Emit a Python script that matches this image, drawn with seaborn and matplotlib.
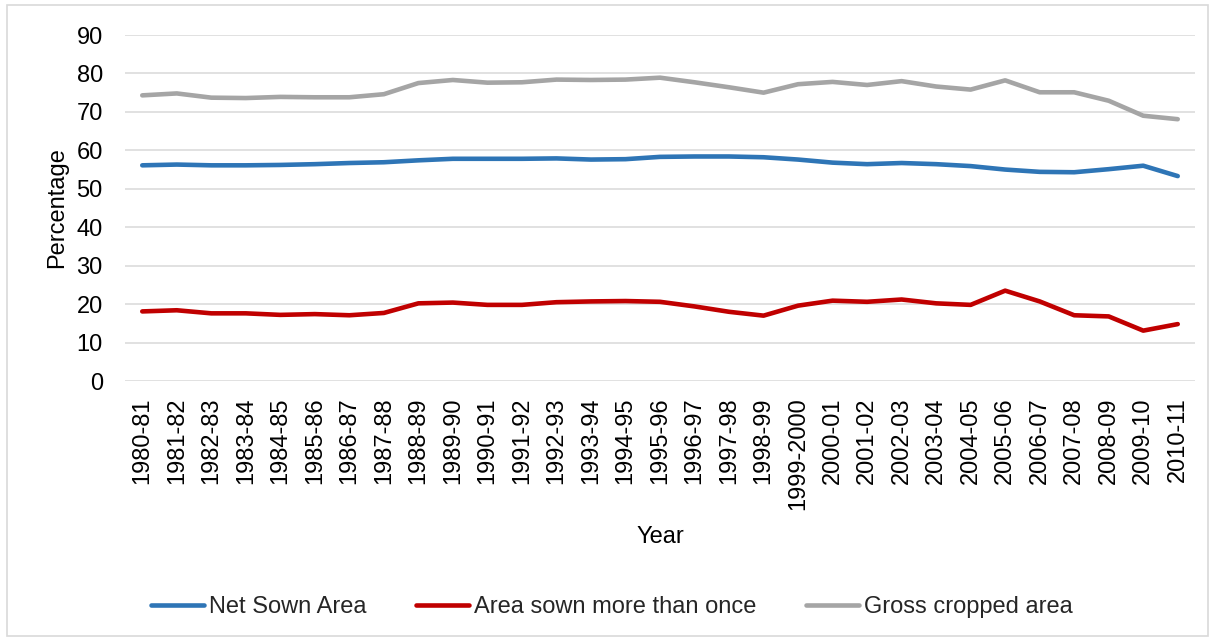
import numpy as np
import pandas as pd
import seaborn as sns
import matplotlib.pyplot as plt
from matplotlib.patches import Rectangle
from matplotlib.lines import Line2D

years = [
    "1980-81", "1981-82", "1982-83", "1983-84", "1984-85", "1985-86", "1986-87",
    "1987-88", "1988-89", "1989-90", "1990-91", "1991-92", "1992-93", "1993-94",
    "1994-95", "1995-96", "1996-97", "1997-98", "1998-99", "1999-2000", "2000-01",
    "2001-02", "2002-03", "2003-04", "2004-05", "2005-06", "2006-07", "2007-08",
    "2008-09", "2009-10", "2010-11",
]

net_sown_area = [
    56.1, 56.3, 56.1, 56.1, 56.2, 56.4, 56.7, 56.9, 57.4, 57.8, 57.8, 57.8,
    57.9, 57.6, 57.7, 58.3, 58.4, 58.4, 58.2, 57.6, 56.8, 56.4, 56.7, 56.4,
    55.9, 55.0, 54.4, 54.3, 55.1, 56.0, 53.3,
]

sown_more_than_once = [
    18.1, 18.4, 17.6, 17.6, 17.2, 17.4, 17.1, 17.7, 20.2, 20.4, 19.8, 19.8,
    20.5, 20.7, 20.8, 20.6, 19.4, 18.0, 17.0, 19.6, 20.9, 20.6, 21.2, 20.2,
    19.8, 23.5, 20.7, 17.1, 16.8, 13.1, 14.8,
]

gross_cropped_area = [
    74.3, 74.8, 73.7, 73.6, 73.9, 73.8, 73.8, 74.6, 77.5, 78.3, 77.6, 77.7,
    78.4, 78.3, 78.4, 78.9, 77.7, 76.4, 75.0, 77.2, 77.8, 77.0, 78.0, 76.6,
    75.8, 78.2, 75.1, 75.1, 72.9, 69.0, 68.1,
]

series_names = ["Net Sown Area", "Area sown more than once", "Gross cropped area"]
series_colors = ["#2E75B6", "#C00000", "#A5A5A5"]

df = pd.DataFrame({
    "Year": years * 3,
    "Percentage": net_sown_area + sown_more_than_once + gross_cropped_area,
    "Series": [series_names[0]] * len(years)
    + [series_names[1]] * len(years)
    + [series_names[2]] * len(years),
})

sns.set_theme(style="white")
plt.rcParams["font.family"] = ["Liberation Sans", "DejaVu Sans"]

FS = 17
LW = 3.3

fig = plt.figure(figsize=(12.13, 6.41), dpi=100)
ax = fig.add_axes([125 / 1213, 1 - 381 / 641, 1070 / 1213, 346 / 641])

sns.lineplot(
    data=df, x="Year", y="Percentage", hue="Series",
    palette=dict(zip(series_names, series_colors)),
    linewidth=LW, sort=False, ax=ax, legend=False,
)
for line in ax.lines:
    line.set_solid_capstyle("round")
    line.set_solid_joinstyle("round")

ax.set_ylim(0, 90)
ax.set_yticks(range(0, 91, 10))
ax.set_xlim(-0.5, len(years) - 0.5)
ax.yaxis.grid(True, color="#D9D9D9", linewidth=1.1)
ax.xaxis.grid(False)
ax.set_axisbelow(True)
for s in ax.spines.values():
    s.set_visible(False)

ax.tick_params(axis="x", rotation=90, length=0, pad=12, labelsize=FS, colors="black")
ax.tick_params(axis="y", length=0, pad=16, labelsize=FS, colors="black")
ax.set_xlabel("Year", fontsize=FS, labelpad=11, color="black")
ax.set_ylabel("Percentage", fontsize=FS, labelpad=6, color="black")

handles = [
    Line2D([], [], color=c, linewidth=LW, solid_capstyle="round")
    for c in series_colors
]
fig.legend(
    handles, series_names, loc="center",
    bbox_to_anchor=(612 / 1213, 1 - 607 / 641), ncol=3, frameon=False,
    fontsize=FS, handlelength=2.25, handletextpad=0.2, columnspacing=2.1,
)

fig.patches.append(Rectangle(
    (7 / 1213, 5 / 641), (1208 - 7) / 1213, (636 - 5) / 641,
    transform=fig.transFigure, fill=False, edgecolor="#D9D9D9", linewidth=1.2,
))

fig.savefig("out.png", dpi=100)
